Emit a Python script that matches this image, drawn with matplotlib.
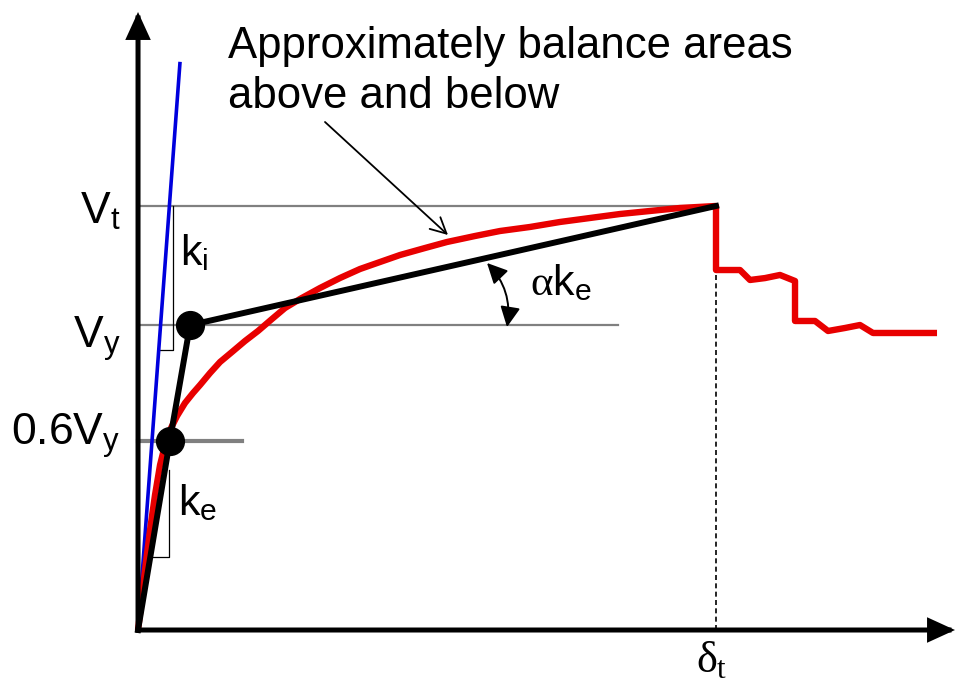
import matplotlib
matplotlib.use("Agg")
import matplotlib.pyplot as plt
from matplotlib.patches import FancyArrowPatch

plt.rcParams['font.family'] = ['Liberation Sans', 'DejaVu Sans']
plt.rcParams['mathtext.fontset'] = 'custom'
plt.rcParams['mathtext.rm'] = 'Liberation Sans'
plt.rcParams['mathtext.it'] = 'Liberation Serif'
plt.rcParams['mathtext.sf'] = 'Liberation Sans'
plt.rcParams['mathtext.bf'] = 'Liberation Sans:bold'

# ---- data (normalised: delta_t = 1, V_t = 1) ----
curve_disp = [0.0, 0.0052, 0.0121, 0.0208, 0.0294, 0.0381, 0.0467, 0.0571, 0.0675,
              0.0813, 0.0952, 0.1073, 0.1246, 0.1419, 0.1626, 0.1851, 0.2076,
              0.2318, 0.2543, 0.2803, 0.3149, 0.3495, 0.3841, 0.4187, 0.4533,
              0.4965, 0.5346, 0.5830, 0.6263, 0.6782, 0.7301, 0.7820, 0.8339,
              0.8858, 0.9377, 1.0]
curve_force = [0.0, 0.0590, 0.1415, 0.2358, 0.3184, 0.3892, 0.4363, 0.4764, 0.5047,
               0.5354, 0.5590, 0.5778, 0.6061, 0.6321, 0.6557, 0.6816, 0.7052,
               0.7335, 0.7594, 0.7807, 0.8066, 0.8302, 0.8514, 0.8679, 0.8844,
               0.9009, 0.9151, 0.9292, 0.9410, 0.9505, 0.9623, 0.9717, 0.9811,
               0.9882, 0.9953, 1.0]
tail_disp = [1.0, 1.0, 1.0415, 1.0588, 1.0848, 1.1107, 1.1367, 1.1367, 1.1713,
             1.1938, 1.2232, 1.2491, 1.2716, 1.3824]
tail_force = [1.0, 0.849, 0.849, 0.8255, 0.830, 0.8373, 0.8231, 0.7288, 0.7288,
              0.7052, 0.7123, 0.7193, 0.7005, 0.7005]
bilin_disp = [0.0, 0.055, 0.090, 1.0]
bilin_force = [0.0, 0.446, 0.719, 1.0]
ki_disp = [0.0, 0.0727]
ki_force = [0.0, 1.34]
V_t, V_y, V_06 = 1.0, 0.719, 0.446
delta_t = 1.0
level_ends = [1.0, 0.830, 0.180]
y_labels = [r'$\mathrm{V}_\mathrm{t}$', r'$\mathrm{V}_\mathrm{y}$', r'$\mathrm{0.6V}_\mathrm{y}$']
note_lines = ['Approximately balance areas', 'above and below']

fig = plt.figure(figsize=(9.65, 6.92), dpi=100)
ax = fig.add_axes([0, 0, 1, 1])
ax.set_xlim(-0.2388, 1.4308)
ax.set_ylim(-0.1462, 1.4858)
ax.axis('off')

grey = '#808080'
# reference levels
ax.plot([0, level_ends[0]], [V_t, V_t], color=grey, lw=1.6, zorder=1)
ax.plot([0, level_ends[1]], [V_y, V_y], color=grey, lw=1.6, zorder=1)
ax.plot([0, level_ends[2]], [V_06, V_06], color=grey, lw=3.0, zorder=1)
ax.plot([delta_t, delta_t], [0, V_t], color='black', lw=1.2, ls=(0, (3, 2)), zorder=1)

# slope triangles
ax.plot([0.036, 0.0606, 0.0606], [0.660, 0.660, V_t], color='black', lw=0.9, zorder=2)
ax.plot([0.022, 0.0536, 0.0536], [0.172, 0.172, 0.377], color='black', lw=0.9, zorder=2)

# curves
ax.plot(ki_disp, ki_force, color='#0000dd', lw=2.6, zorder=3, solid_capstyle='butt')
ax.plot(curve_disp + tail_disp[1:], curve_force + tail_force[1:], color='#e80000',
        lw=4.6, zorder=4, solid_joinstyle='round', solid_capstyle='butt')
ax.plot(bilin_disp, bilin_force, color='black', lw=4.3, zorder=5)
ax.plot(bilin_disp[1:3], bilin_force[1:3], 'o', color='black', ms=20, zorder=6)

# axes with arrows
for start, end in [((0, 0), (0, 1.4575)), ((0, 0), (1.4135, 0))]:
    ax.add_patch(FancyArrowPatch(start, end, arrowstyle='-|>,head_length=0.7,head_width=0.32',
                                 mutation_scale=20, lw=3.6, color='black', shrinkA=0,
                                 shrinkB=0, zorder=7, joinstyle='miter', capstyle='projecting'))

# note arrow
ax.add_patch(FancyArrowPatch((0.3235, 1.1981), (0.5363, 0.9316),
                             arrowstyle='->,head_length=0.75,head_width=0.38',
                             mutation_scale=15, lw=1.3, color='black', shrinkA=0, shrinkB=0,
                             zorder=8))
# angle arrow
ax.add_patch(FancyArrowPatch((0.6038, 0.8656), (0.6384, 0.7146),
                             arrowstyle='<|-|>,head_length=0.65,head_width=0.32',
                             connectionstyle='arc3,rad=-0.25',
                             mutation_scale=19, lw=1.4, color='black', shrinkA=0, shrinkB=0,
                             zorder=8))

# texts
fs = 31
for lab, base in zip(y_labels, [0.96, 0.665, 0.436]):
    ax.text(-0.031, base, lab, ha='right', va='baseline', fontsize=32)
ax.text(0.0727, 0.861, r'$\mathrm{k}_\mathrm{i}$', ha='left', va='baseline', fontsize=fs)
ax.text(0.0692, 0.271, r'$\mathrm{k}_\mathrm{e}$', ha='left', va='baseline', fontsize=fs)
ax.text(0.6782, 0.790, r'$\alpha\mathrm{k}_\mathrm{e}$', ha='left', va='baseline', fontsize=fs)
ax.text(0.966, -0.099, r'$\delta_t$', ha='left', va='baseline', fontsize=32)
ax.text(0.1557, 1.349, note_lines[0], ha='left', va='baseline', fontsize=31.5)
ax.text(0.1557, 1.231, note_lines[1], ha='left', va='baseline', fontsize=31.5)

fig.savefig('out.png', dpi=100)
